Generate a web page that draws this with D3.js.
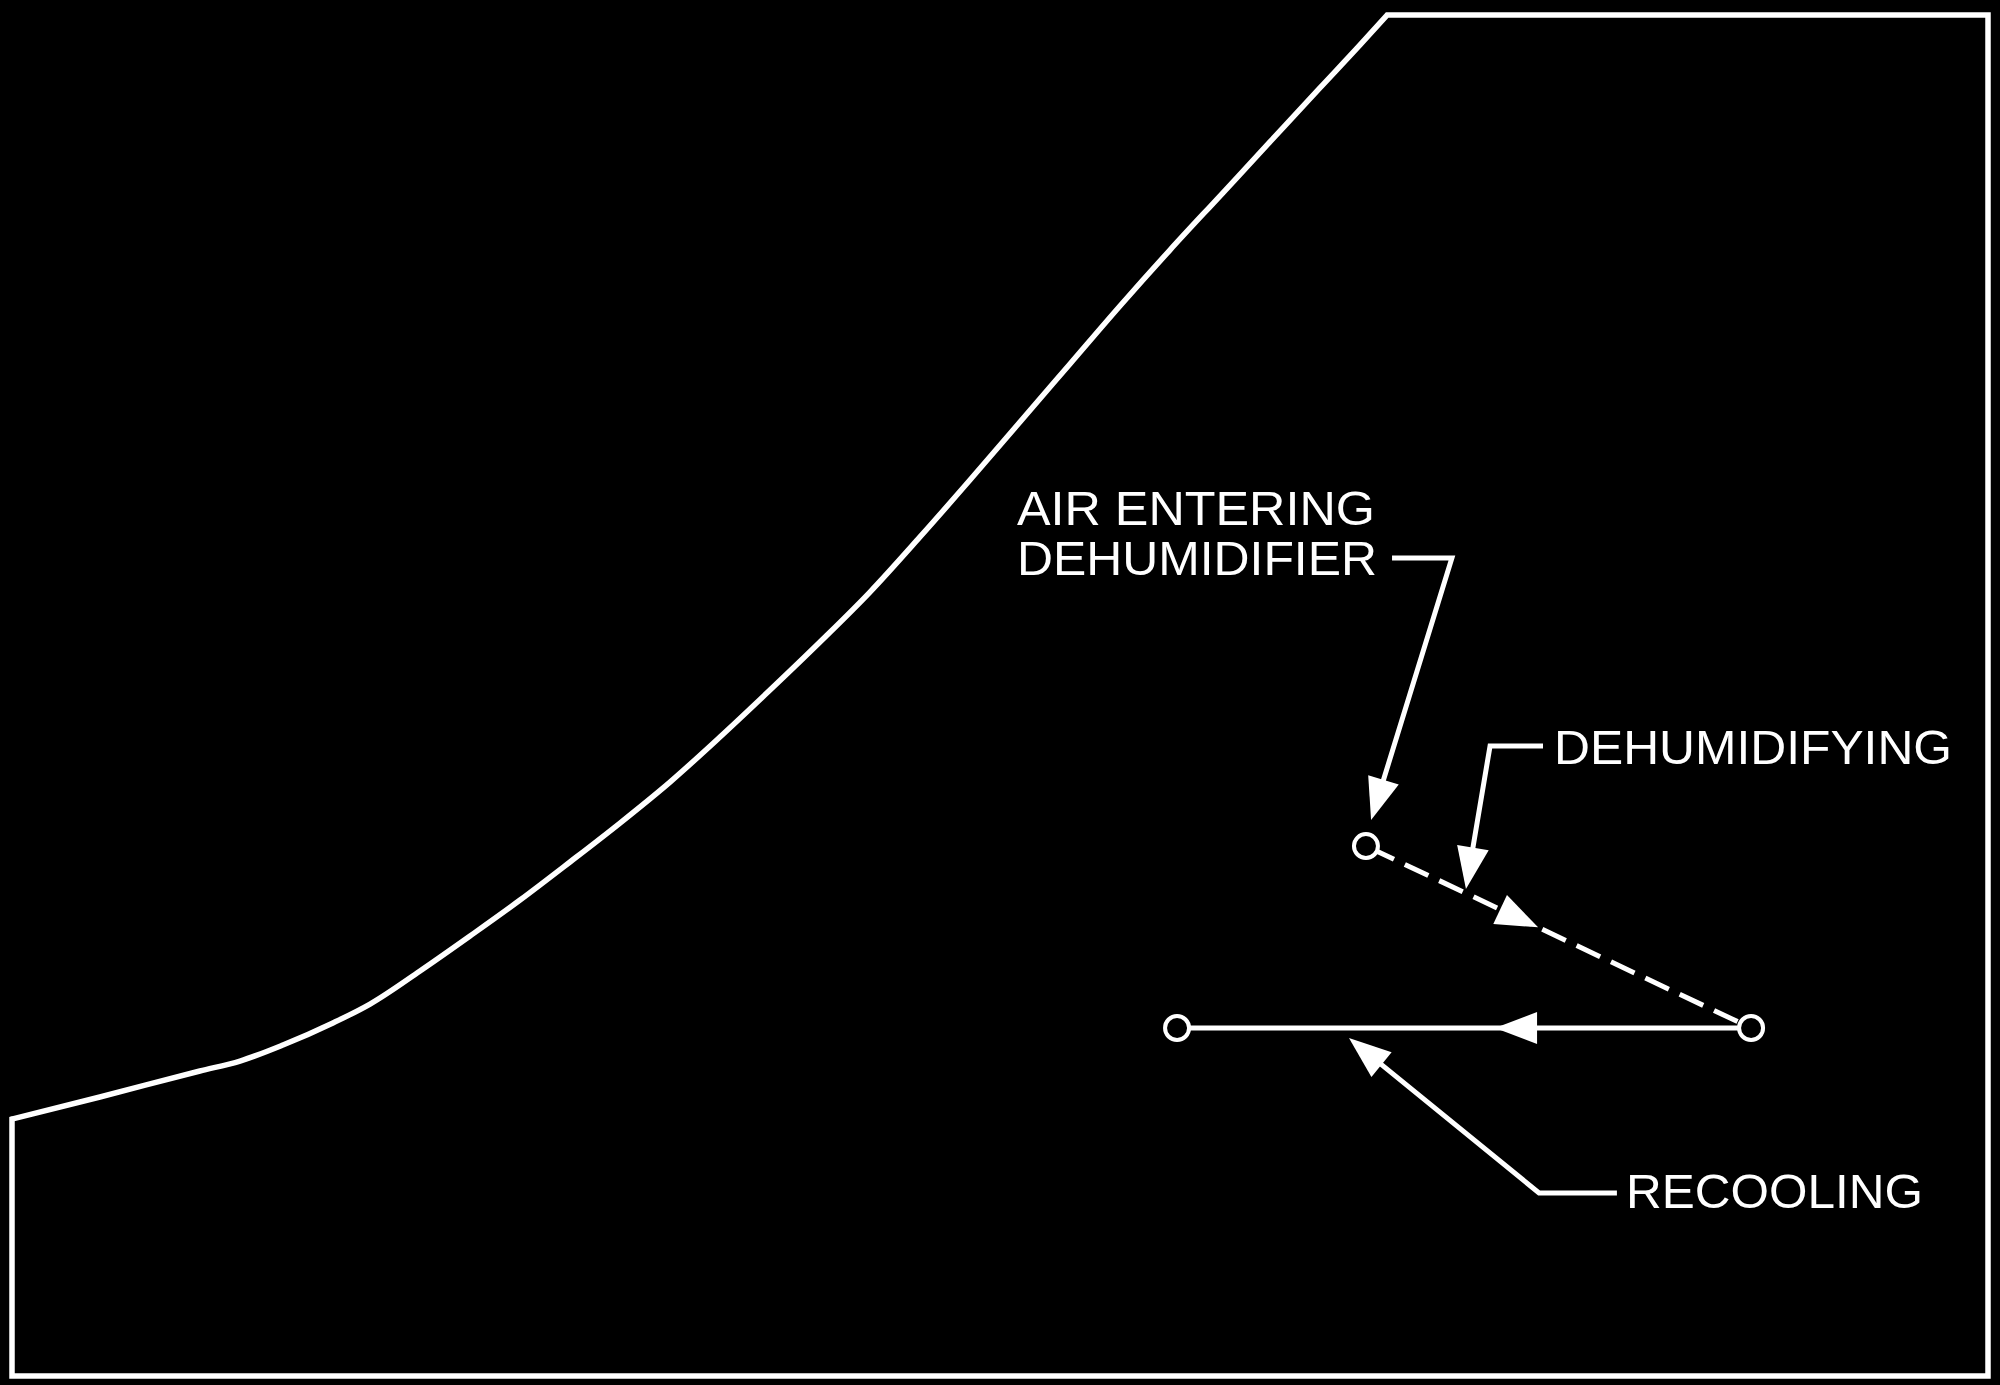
<!DOCTYPE html>
<html>
<head>
<meta charset="utf-8">
<script src="https://cdn.jsdelivr.net/npm/d3@7"></script>
<style>
  html, body { margin: 0; padding: 0; background: #000; }
  svg { display: block; }
</style>
</head>
<body>
<svg id="chart" width="2000" height="1385"></svg>
<script>
// ---------- data (chart units, 0..100 on both axes) ----------
// saturation / boundary curve (x, y)
const curveX = [0, 4.45, 9.51, 11.54, 13.71, 16.24, 18.12, 20.65, 23.18, 25.71, 28.24, 30.77, 33.30, 35.83, 38.36, 40.89, 43.42, 45.95, 48.48, 51.01, 53.54, 56.07, 58.60, 61.13, 63.66, 66.19, 68.22, 69.59];
const curveY = [18.88, 20.50, 22.41, 23.14, 24.32, 25.94, 27.33, 29.76, 32.33, 34.97, 37.77, 40.63, 43.64, 46.95, 50.40, 53.93, 57.60, 61.65, 65.83, 70.10, 74.36, 78.62, 82.73, 86.70, 90.67, 94.64, 97.80, 100];
// frame corners closing the chart area (top-right, bottom-right, bottom-left)
const frameX = [100, 100, 0];
const frameY = [100, 0, 0];

// air states
const stateNames = ["Entering dehumidifier", "Leaving dehumidifier", "Leaving recooler"];
const stateX = [68.52, 88.01, 58.96];
const stateY = [38.94, 25.57, 25.57];

// processes: from state index -> to state index, arrow position (fraction of path)
const processNames = ["DEHUMIDIFYING", "RECOOLING"];
const processFrom = [0, 1];
const processTo = [1, 2];
const processArrowAt = [0.447, 0.446];
const processDashed = [true, false];

// callout labels
const labelText = [["AIR ENTERING", "DEHUMIDIFIER"], ["DEHUMIDIFYING"], ["RECOOLING"]];
const labelAnchorX = [50.91, 78.09, 81.73];
const labelAnchorY = [62.53, 44.97, 12.34];
// leader lines: points from label end to arrow tip
const leaderX = [[69.84, 72.87, 68.78], [77.48, 74.80, 73.58], [81.22, 77.28, 67.66]];
const leaderY = [[60.10, 60.10, 40.85], [46.29, 46.29, 35.78], [13.45, 13.45, 24.83]];

// ---------- drawing ----------
const svg = d3.select("#chart");
const x = d3.scaleLinear().domain([0, 100]).range([12, 1988]);
const y = d3.scaleLinear().domain([0, 100]).range([1376, 15]);

svg.append("rect").attr("width", 2000).attr("height", 1385).attr("fill", "#000");

const curvePts = curveX.map((v, i) => [x(v), y(curveY[i])]);
const framePts = frameX.map((v, i) => [x(v), y(frameY[i])]);

// boundary: smooth curve + straight frame
const smooth = d3.line().curve(d3.curveMonotoneX)(curvePts);
const frame = d3.line()([curvePts[curvePts.length - 1]].concat(framePts, [curvePts[0]]));
svg.append("path")
  .attr("d", smooth + frame.replace(/^M[^L]*/, "") + "Z")
  .attr("fill", "none")
  .attr("stroke", "#fff")
  .attr("stroke-width", 5.5)
  .attr("stroke-linejoin", "miter");

const ARROW_LEN = 42, ARROW_HALF = 16;
function arrowHead(tx, ty, dx, dy) {
  const L = Math.hypot(dx, dy), ux = dx / L, uy = dy / L;
  const bx = tx - ux * ARROW_LEN, by = ty - uy * ARROW_LEN;
  return `M${tx},${ty}L${bx - uy * ARROW_HALF},${by + ux * ARROW_HALF}L${bx + uy * ARROW_HALF},${by - ux * ARROW_HALF}Z`;
}

// process lines
processNames.forEach((name, i) => {
  const a = processFrom[i], b = processTo[i];
  const x0 = x(stateX[a]), y0 = y(stateY[a]), x1 = x(stateX[b]), y1 = y(stateY[b]);
  svg.append("line")
    .attr("x1", x0).attr("y1", y0).attr("x2", x1).attr("y2", y1)
    .attr("stroke", "#fff")
    .attr("stroke-width", 5)
    .attr("stroke-dasharray", processDashed[i] ? "26 12" : null)
    .attr("stroke-dashoffset", processDashed[i] ? 33 : null);
  const t = processArrowAt[i];
  const tx = x0 + (x1 - x0) * t, ty = y0 + (y1 - y0) * t;
  svg.append("path").attr("d", arrowHead(tx, ty, x1 - x0, y1 - y0)).attr("fill", "#fff");
});

// state circles
svg.selectAll("circle.state")
  .data(stateNames)
  .join("circle")
  .attr("class", "state")
  .attr("cx", (d, i) => x(stateX[i]))
  .attr("cy", (d, i) => y(stateY[i]))
  .attr("r", 12)
  .attr("fill", "#000")
  .attr("stroke", "#fff")
  .attr("stroke-width", 4);

// leaders
leaderX.forEach((lx, i) => {
  const pts = lx.map((v, j) => [v, leaderY[i][j]]);
  const n = pts.length;
  const tx = x(pts[n - 1][0]), ty = y(pts[n - 1][1]);
  const px = x(pts[n - 2][0]), py = y(pts[n - 2][1]);
  const dx = tx - px, dy = ty - py, L = Math.hypot(dx, dy);
  const shaft = pts.slice(0, n - 1).map(p => [x(p[0]), y(p[1])]);
  shaft.push([tx - dx / L * (ARROW_LEN - 4), ty - dy / L * (ARROW_LEN - 4)]);
  svg.append("path")
    .attr("d", d3.line()(shaft))
    .attr("fill", "none")
    .attr("stroke", "#fff")
    .attr("stroke-width", 5)
    .attr("stroke-linejoin", "miter");
  svg.append("path").attr("d", arrowHead(tx, ty, dx, dy)).attr("fill", "#fff");
});

// labels (widths matched to the reference lettering)
const labelWidths = [[358, 360], [398], [297]];
labelText.forEach((lines, i) => {
  const t = svg.append("text")
    .attr("x", x(labelAnchorX[i]) - 1)
    .attr("y", y(labelAnchorY[i]))
    .attr("fill", "#fff")
    .attr("font-family", "'Liberation Sans', Arial, Helvetica, sans-serif")
    .attr("font-size", 49);
  lines.forEach((s, j) => {
    t.append("tspan")
      .attr("x", x(labelAnchorX[i]) - 1)
      .attr("dy", j === 0 ? 0 : 50)
      .attr("textLength", labelWidths[i][j])
      .attr("lengthAdjust", "spacingAndGlyphs")
      .text(s);
  });
});
</script>
</body>
</html>
